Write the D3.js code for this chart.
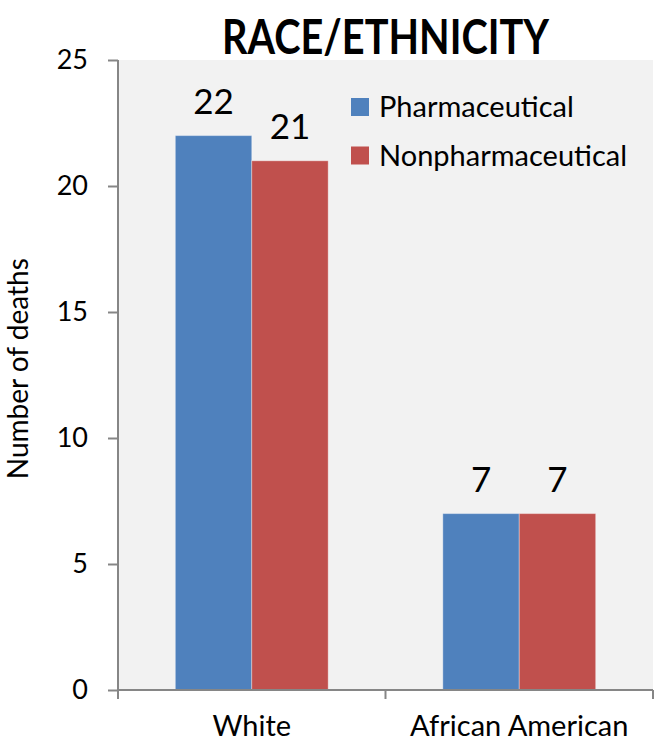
<!DOCTYPE html>
<html>
<head>
<meta charset="utf-8">
<script src="https://cdn.jsdelivr.net/npm/d3@7"></script>
<style>
  body { margin: 0; background: #ffffff; }
  text { font-family: Lato, "Open Sans", sans-serif; fill: #000000; }
</style>
</head>
<body>
<script>
// chart data
var categories = ["White", "African American"];
var seriesNames = ["Pharmaceutical", "Nonpharmaceutical"];
var pharmaValues = [22, 7];
var nonpharmaValues = [21, 7];
var yTicks = [0, 5, 10, 15, 20, 25];
var colors = ["#4f81bd", "#c0504d"];

var margin = {top: 60, right: 1, bottom: 53, left: 118};
const W = 654, H = 743;
const width = W - margin.left - margin.right,
  height = H - margin.top - margin.bottom;

var rows = categories.map(function(c, i) {
  return {cat: c, values: [pharmaValues[i], nonpharmaValues[i]]};
});

var svg = d3.select("body").append("svg")
  .attr("width", W)
  .attr("height", H);

var g = svg.append("g")
  .attr("transform", "translate(" + margin.left + "," + margin.top + ")");

var x0 = d3.scaleBand().domain(categories).range([0, width]).paddingInner(0).paddingOuter(0);
var x1 = d3.scaleBand().domain(seriesNames).range([0, x0.bandwidth()]).paddingInner(0).paddingOuter(0.75);
var y = d3.scaleLinear().domain([0, 25]).range([height, 0]);

// plot background
g.append("rect")
  .attr("width", width)
  .attr("height", height)
  .style("fill", "#f2f2f2");

// bars
var groups = g.selectAll(".grp")
  .data(rows)
  .enter().append("g")
  .attr("class", "grp")
  .attr("transform", function(d) { return "translate(" + x0(d.cat) + ",0)"; });

groups.selectAll("rect")
  .data(function(d) { return d.values.map(function(v, i) { return {name: seriesNames[i], value: v, i: i}; }); })
  .enter().append("rect")
  .attr("x", function(d) { return x1(d.name); })
  .attr("y", function(d) { return y(d.value); })
  .attr("width", x1.bandwidth())
  .attr("height", function(d) { return height - y(d.value); })
  .style("fill", function(d) { return colors[d.i]; })
  .style("stroke", "rgba(255,255,255,0.35)")
  .style("stroke-width", 1);

// data labels
groups.selectAll(".lbl")
  .data(function(d) { return d.values.map(function(v, i) { return {name: seriesNames[i], value: v}; }); })
  .enter().append("text")
  .attr("class", "lbl")
  .attr("x", function(d) { return x1(d.name) + x1.bandwidth() / 2; })
  .attr("y", function(d) { return y(d.value) - 22; })
  .attr("text-anchor", "middle")
  .style("font-size", "35px")
  .text(function(d) { return d.value; });

// y axis
var yAxis = g.append("g")
  .call(d3.axisLeft(y).tickValues(yTicks).tickSize(10).tickPadding(20));
yAxis.selectAll("path, line").style("stroke", "#868686").style("stroke-width", 2);
yAxis.select(".domain").attr("d", "M0," + height + "V0");
yAxis.selectAll("text").style("font-size", "27px").style("font-family", "Lato");

// x axis
var xAxis = g.append("g")
  .attr("transform", "translate(0," + height + ")")
  .call(d3.axisBottom(x0).tickSize(0).tickPadding(25));
xAxis.select(".domain").style("stroke", "#868686").style("stroke-width", 2).attr("d", "M0,0H" + width);
xAxis.selectAll("text").style("font-size", "29px").style("font-family", "Lato");

// category separators
g.append("g").selectAll("line")
  .data([0, width / 2, width])
  .enter().append("line")
  .attr("x1", function(d) { return d; })
  .attr("x2", function(d) { return d; })
  .attr("y1", height)
  .attr("y2", height + 9)
  .style("stroke", "#868686")
  .style("stroke-width", 2);

// y label
svg.append("text")
  .attr("transform", "translate(28," + (margin.top + height * 0.49) + ") rotate(-90)")
  .attr("text-anchor", "middle")
  .style("font-size", "28px")
  .text("Number of deaths");

// title
svg.append("text")
  .attr("x", margin.left + width / 2)
  .attr("y", 54)
  .attr("text-anchor", "middle")
  .attr("textLength", 327)
  .attr("lengthAdjust", "spacingAndGlyphs")
  .style("font-size", "48px")
  .style("font-weight", "bold")
  .text("RACE/ETHNICITY");

// legend
var legend = svg.append("g").attr("transform", "translate(351,98)");
var li = legend.selectAll("g")
  .data(seriesNames)
  .enter().append("g")
  .attr("transform", function(d, i) { return "translate(0," + (i * 48.5) + ")"; });
li.append("rect")
  .attr("width", 18)
  .attr("height", 18)
  .style("fill", function(d, i) { return colors[i]; });
li.append("text")
  .attr("x", 28)
  .attr("y", 19)
  .style("font-size", "29px")
  .text(function(d) { return d; });
</script>
</body>
</html>
